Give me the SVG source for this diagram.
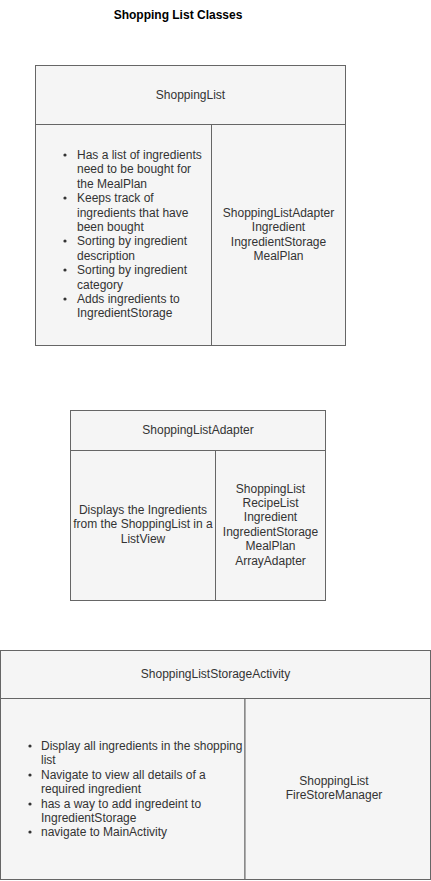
<svg xmlns="http://www.w3.org/2000/svg" width="431" height="881" viewBox="0 0 431 881">
<style>
.box{fill:#f5f5f5;stroke:#666;stroke-width:1}
.t{font-family:"Liberation Sans",Arial,sans-serif;font-size:12px;fill:#333}
.c{text-anchor:middle}
.title{font-family:"Liberation Sans",Arial,sans-serif;font-size:12px;font-weight:bold;fill:#000;text-anchor:middle}
</style>
<rect width="431" height="881" fill="#fff"/>
<text class="title" x="178" y="19">Shopping List Classes</text>
<g id="connectors"/>
<g id="ShoppingList">
<rect class="box" x="35.5" y="65.5" width="310" height="59"/>
<rect class="box" x="35.5" y="124.5" width="176" height="221"/>
<rect class="box" x="211.5" y="124.5" width="134" height="221"/>
<text class="t c" x="190.5" y="99">ShoppingList</text>
<g class="t">
<circle cx="65" cy="155" r="1.6" fill="#333"/>
<circle cx="65" cy="198" r="1.6" fill="#333"/>
<circle cx="65" cy="241" r="1.6" fill="#333"/>
<circle cx="65" cy="270" r="1.6" fill="#333"/>
<circle cx="65" cy="299" r="1.6" fill="#333"/>
<text x="77" y="159">Has a list of ingredients</text>
<text x="77" y="173.4">need to be bought for</text>
<text x="77" y="187.8">the MealPlan</text>
<text x="77" y="202.2">Keeps track of</text>
<text x="77" y="216.6">ingredients that have</text>
<text x="77" y="231">been bought</text>
<text x="77" y="245.4">Sorting by ingredient</text>
<text x="77" y="259.8">description</text>
<text x="77" y="274.2">Sorting by ingredient</text>
<text x="77" y="288.6">category</text>
<text x="77" y="303">Adds ingredients to</text>
<text x="77" y="317.4">IngredientStorage</text>
</g>
<g class="t c">
<text x="278.5" y="217">ShoppingListAdapter</text>
<text x="278.5" y="231.4">Ingredient</text>
<text x="278.5" y="245.8">IngredientStorage</text>
<text x="278.5" y="260.2">MealPlan</text>
</g>
</g>
<g id="ShoppingListAdapter">
<rect class="box" x="70.5" y="410.5" width="255" height="40"/>
<rect class="box" x="70.5" y="450.5" width="145" height="150"/>
<rect class="box" x="215.5" y="450.5" width="110" height="150"/>
<text class="t c" x="198" y="434">ShoppingListAdapter</text>
<g class="t c">
<text x="143" y="514">Displays the Ingredients</text>
<text x="143" y="528.4">from the ShoppingList in a</text>
<text x="143" y="542.8">ListView</text>
</g>
<g class="t c">
<text x="270.5" y="492.5">ShoppingList</text>
<text x="270.5" y="506.9">RecipeList</text>
<text x="270.5" y="521.3">Ingredient</text>
<text x="270.5" y="535.7">IngredientStorage</text>
<text x="270.5" y="550.1">MealPlan</text>
<text x="270.5" y="564.5">ArrayAdapter</text>
</g>
</g>
<g id="ShoppingListStorageActivity">
<rect class="box" x="0.5" y="650.5" width="430" height="48"/>
<rect class="box" x="0.5" y="698.5" width="244.5" height="181"/>
<rect class="box" x="245" y="698.5" width="185.5" height="181"/>
<text class="t c" x="215.5" y="678">ShoppingListStorageActivity</text>
<g class="t">
<circle cx="30" cy="746" r="1.6" fill="#333"/>
<circle cx="30" cy="775" r="1.6" fill="#333"/>
<circle cx="30" cy="804" r="1.6" fill="#333"/>
<circle cx="30" cy="832" r="1.6" fill="#333"/>
<text x="41" y="750">Display all ingredients in the shopping</text>
<text x="41" y="764.4">list</text>
<text x="41" y="778.8">Navigate to view all details of a</text>
<text x="41" y="793.2">required ingredient</text>
<text x="41" y="807.6">has a way to add ingredeint to</text>
<text x="41" y="822">IngredientStorage</text>
<text x="41" y="836.4">navigate to MainActivity</text>
</g>
<g class="t c">
<text x="334" y="785">ShoppingList</text>
<text x="334" y="799.4">FireStoreManager</text>
</g>
</g>
</svg>
